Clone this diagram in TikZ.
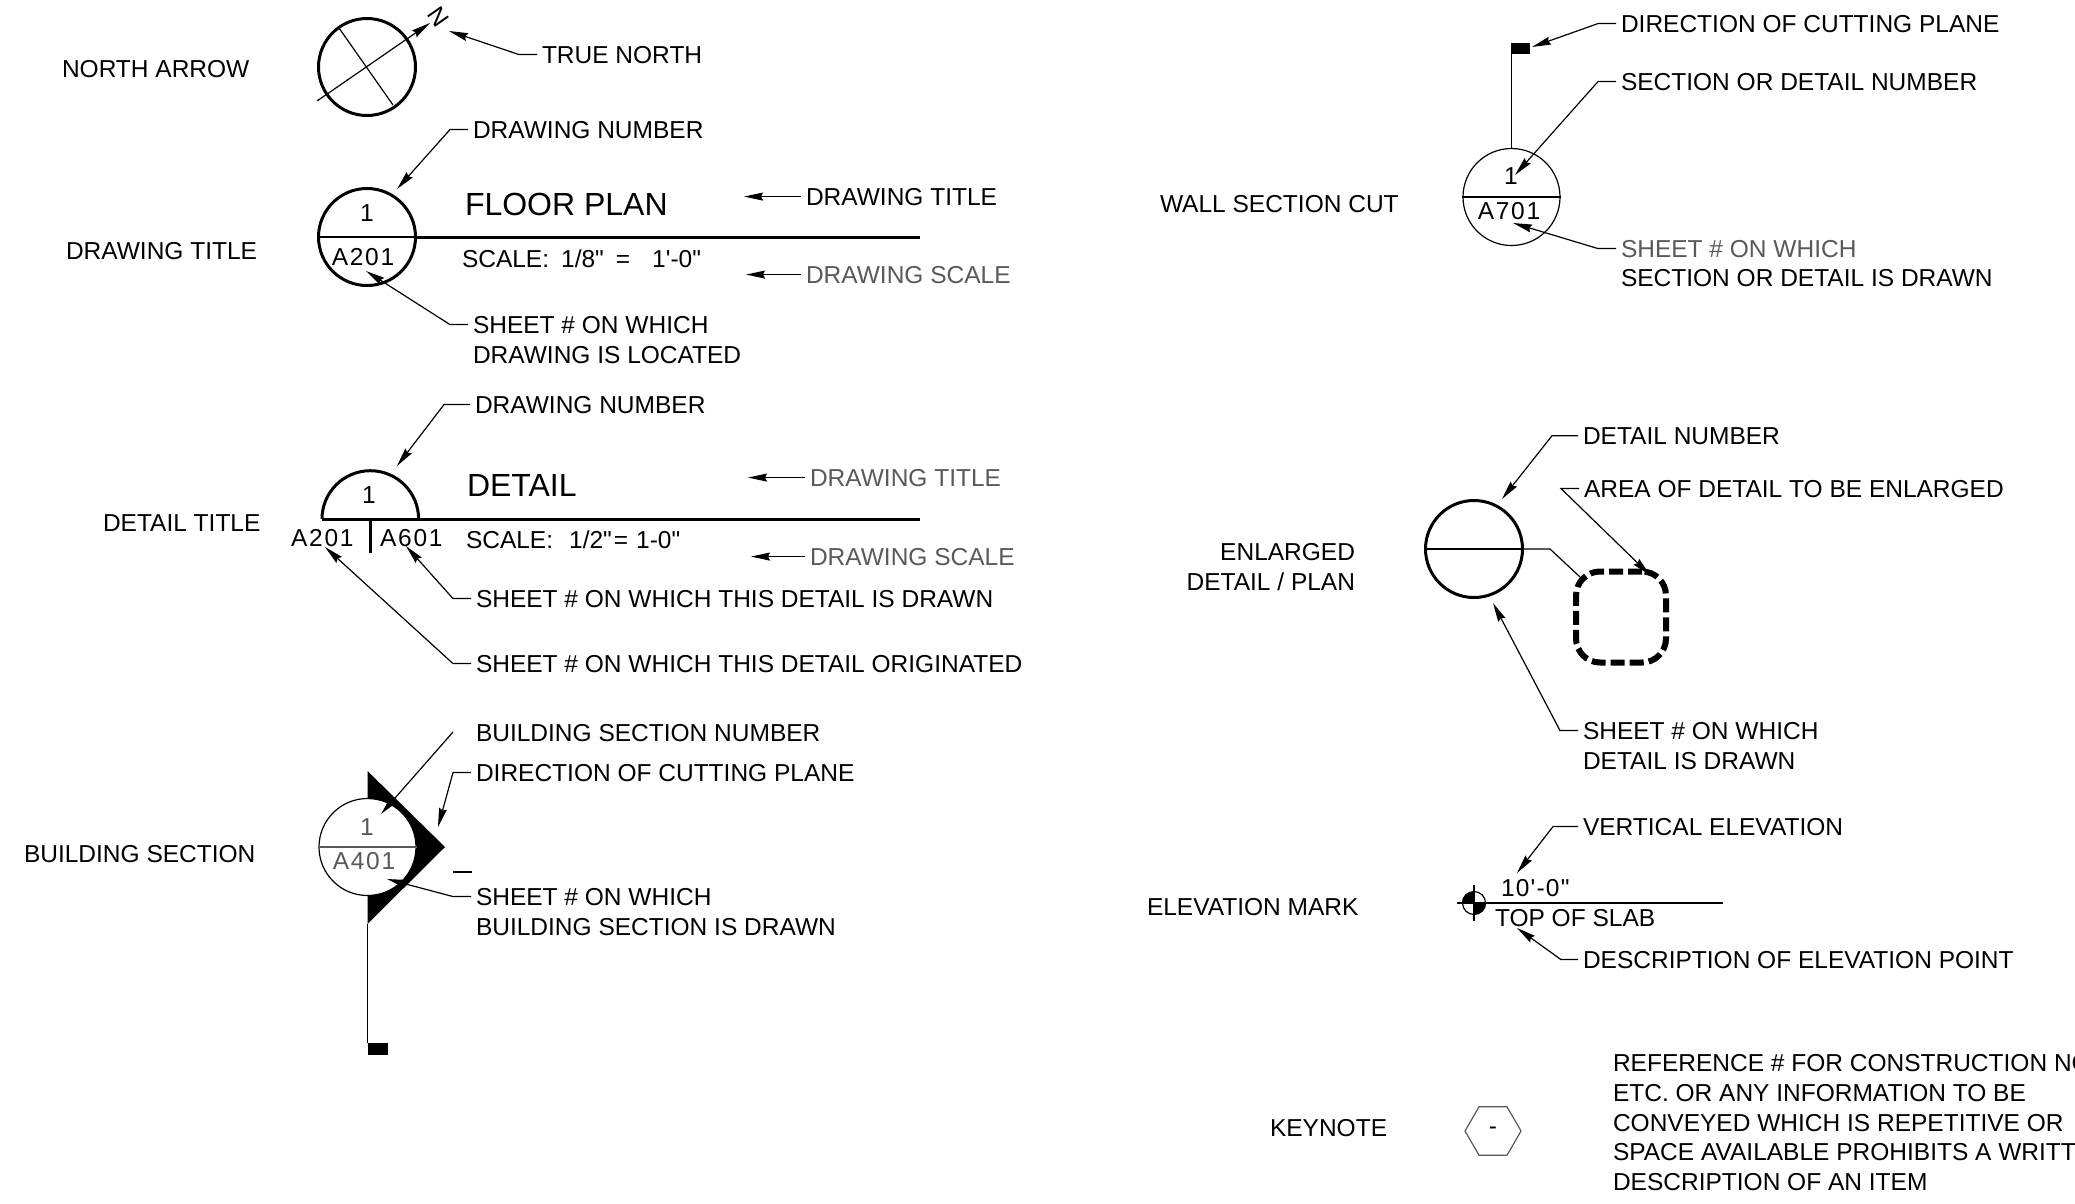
\documentclass[tikz,border=0pt]{standalone}
\usepackage{fontspec}
\setmainfont[Ligatures=TeXOff]{Liberation Sans}
\usepackage{tikz}
\usetikzlibrary{arrows.meta}
\usetikzlibrary{shapes.geometric}
\tikzstyle{lbl}=[anchor=base west,inner sep=0mm,outer sep=5pt,xshift=-5pt,font=\fontsize{24.5}{30}\selectfont]
\tikzstyle{lblr}=[lbl,anchor=base east,xshift=5pt]
\tikzstyle{big}=[lbl,font=\fontsize{32}{36}\selectfont]
\tikzstyle{num}=[anchor=base,inner sep=0mm,font=\fontsize{24.5}{30}\selectfont\addfontfeature{LetterSpace=7}]
\tikzstyle{heavy}=[line width=3pt]
\tikzstyle{fine}=[line width=1.2pt]
\tikzstyle{bubble}=[circle,draw=black,inner sep=0mm,minimum size=97pt]
\tikzstyle{lead}=[fine,-{Stealth[length=19pt,width=8pt,inset=2pt]}]
\tikzset{every picture/.style={x=1pt,y=-1pt}}
\definecolor{soft}{gray}{0.35}

\begin{document}
\begin{tikzpicture}
      \useasboundingbox (0,0) rectangle (2075,1203);
      % row labels
      \node[lbl] at (62,77) (lnorth) {NORTH ARROW};
      \node[lbl] at (66,259) (ltitle) {DRAWING TITLE};
      \node[lbl] at (103,531) (ldetail) {DETAIL TITLE};
      \node[lbl] at (24,862) (lbuild) {BUILDING SECTION};
      \node[lbl] at (1160,212) (lwall) {WALL SECTION CUT};
      \node[lblr] at (1360,560) (lenl) {ENLARGED};
      \node[lblr] at (1360,590) (lenlb) {DETAIL / PLAN};
      \node[lbl] at (1147,915) (lelev) {ELEVATION MARK};
      \node[lbl] at (1270,1136) (lkey) {KEYNOTE};

      % north arrow
      \node[bubble,heavy] at (367,67) (nc) {};
      \coordinate (na) at (317,101);
      \coordinate (nb) at (430,23);
      \coordinate (nd) at (339,28);
      \coordinate (ne) at (393,105);
      \draw[lead] (na) -- (nb);
      \draw[fine] (nd) -- (ne);
      \node[num,anchor=center,rotate=-55] at (438,17) (nn) {N};
      \node[lbl] at (542,63) (tn) {TRUE NORTH};
      \coordinate (tnt) at (449,31);
      \draw[lead] (tn.west) -- ++(-18,0) -- (tnt);

      % drawing title
      \node[bubble,heavy] at (367,237) (dc) {};
      \coordinate (dr) at (920,237);
      \draw[heavy] (dc.east) -- (dr);
      \draw[fine] (dc.west) -- (dc.east);
      \node[num] at (367,221) (dn) {1};
      \node[num] at (363,265) (ds) {A201};
      \node[big] at (465,215) (fp) {FLOOR PLAN};
      \node[lbl] at (462,267) (fs) {SCALE:\hspace{12pt}1/8"\hspace{12pt}=\hspace{22pt}1'-0"};
      \node[lbl] at (473,138) (dnum) {DRAWING NUMBER};
      \coordinate (dnt) at (397,189);
      \draw[lead] (dnum.west) -- ++(-18,0) -- (dnt);
      \node[lbl] at (806,205) (dtt) {DRAWING TITLE};
      \coordinate (dtp) at (744,196);
      \draw[lead] (dtt.west) -- (dtt.west -| dtp);
      \node[lbl,text=soft] at (806,283) (dsc) {DRAWING SCALE};
      \coordinate (dsp) at (746,275);
      \draw[lead] (dsc.west) -- (dsc.west -| dsp);
      \node[lbl] at (473,333) (dsh) {SHEET \# ON WHICH};
      \node[lbl] at (473,363) (dshb) {DRAWING IS LOCATED};
      \coordinate (dst) at (366,271);
      \draw[lead] (dsh.west) -- ++(-18,0) -- (dst);

      % detail title
      \coordinate (tl) at (322,519);
      \coordinate (tr) at (920,519);
      \draw[heavy] (tl) arc[start angle=180,end angle=0,radius=48.3pt];
      \draw[heavy] (tl) -- (tr);
      \coordinate (tm) at (370,519);
      \coordinate (tb) at (370,553);
      \draw[heavy] (tm) -- (tb);
      \node[num] at (369,503) (tn1) {1};
      \node[num,anchor=base west] at (291,546) (ta) {A201};
      \node[num,anchor=base west] at (380,546) (tc) {A601};
      \node[big] at (467,496) (de) {DETAIL};
      \node[lbl] at (466,548) (ts) {SCALE:\hspace{16pt}1/2"\hspace{2pt}=\hspace{8pt}1-0"};
      \node[lbl] at (475,413) (tnum) {DRAWING NUMBER};
      \coordinate (tnt) at (397,466);
      \draw[lead] (tnum.west) -- ++(-26,0) -- (tnt);
      \node[lbl,text=soft] at (810,486) (ttt) {DRAWING TITLE};
      \coordinate (ttp) at (748,477);
      \draw[lead] (ttt.west) -- (ttt.west -| ttp);
      \node[lbl,text=soft] at (810,565) (tsc) {DRAWING SCALE};
      \coordinate (tsp) at (751,557);
      \draw[lead] (tsc.west) -- (tsc.west -| tsp);
      \node[lbl] at (476,607) (tsa) {SHEET \# ON WHICH THIS DETAIL IS DRAWN};
      \coordinate (tat) at (406,546);
      \draw[lead] (tsa.west) -- ++(-18,0) -- (tat);
      \node[lbl] at (476,672) (tsb) {SHEET \# ON WHICH THIS DETAIL ORIGINATED};
      \coordinate (tbt) at (325,547);
      \draw[lead] (tsb.west) -- ++(-18,0) -- (tbt);

      % building section
      \coordinate (bt) at (367.5,771);
      \coordinate (ba) at (445,847);
      \coordinate (bb) at (367.5,924);
      \fill (bt) -- (ba) -- (bb) -- cycle;
      \node[bubble,fine,fill=white] at (367.5,847) (bc) {};
      \draw[fine,draw=soft] (bc.west) -- (bc.east);
      \coordinate (bf) at (367.5,1043);
      \draw[fine] (bb) -- (bf);
      \node[fill,inner sep=0mm,minimum width=20pt,minimum height=12pt,anchor=north west] at (bf) (bq) {};
      \node[num,text=soft] at (367,835) (bn) {1};
      \node[num,text=soft] at (364,869) (bs) {A401};
      \node[lbl] at (476,741) (bnum) {BUILDING SECTION NUMBER};
      \coordinate (bnf) at (453,732);
      \coordinate (bnt) at (381,814);
      \draw[lead] (bnf) -- (bnt);
      \node[lbl] at (476,781) (bdir) {DIRECTION OF CUTTING PLANE};
      \coordinate (bdt) at (438,827);
      \draw[lead] (bdir.west) -- ++(-18,0) -- (bdt);
      \coordinate (bda) at (453,872);
      \coordinate (bdb) at (472,872);
      \draw[fine] (bda) -- (bdb);
      \node[lbl] at (476,905) (bsh) {SHEET \# ON WHICH};
      \node[lbl] at (476,935) (bshb) {BUILDING SECTION IS DRAWN};
      \coordinate (bst) at (387,879);
      \draw[lead] (bsh.west) -- ++(-18,0) -- (bst);

      % wall section cut
      \node[bubble,fine] at (1511.5,197) (wc) {};
      \draw[fine] (wc.west) -- (wc.east);
      \coordinate (wf) at (1511.5,43);
      \draw[fine] (wc.north) -- (wf);
      \node[fill,inner sep=0mm,minimum width=18pt,minimum height=11pt,anchor=north west] at (wf) (wq) {};
      \node[num] at (1511,184) (wn) {1};
      \node[num] at (1509,219) (ws) {A701};
      \node[lbl] at (1621,32) (wdir) {DIRECTION OF CUTTING PLANE};
      \coordinate (wdt) at (1532,47);
      \draw[lead] (wdir.west) -- ++(-18,0) -- (wdt);
      \node[lbl] at (1621,90) (wnum) {SECTION OR DETAIL NUMBER};
      \coordinate (wnt) at (1515,175);
      \draw[lead] (wnum.west) -- ++(-18,0) -- (wnt);
      \node[lbl,text=soft] at (1621,257) (wsh) {SHEET \# ON WHICH};
      \node[lbl] at (1621,286) (wshb) {SECTION OR DETAIL IS DRAWN};
      \coordinate (wst) at (1513,223);
      \draw[lead] (wsh.west) -- ++(-18,0) -- (wst);

      % enlarged detail
      \node[bubble,heavy] at (1474,549) (ec) {};
      \draw[fine] (ec.west) -- (ec.east);
      \node[draw,line width=6pt,dash pattern=on 14pt off 5pt,rounded corners=24pt,inner sep=0mm,minimum width=90pt,minimum height=91pt] at (1621,617) (ea) {};
      \coordinate (eb) at (1550,549);
      \coordinate (ee) at (1580,577);
      \draw[fine] (ec.east) -- (eb) -- (ee);
      \node[lbl] at (1583,444) (enum) {DETAIL NUMBER};
      \coordinate (ent) at (1502,499);
      \draw[lead] (enum.west) -- ++(-26,0) -- (ent);
      \node[lbl] at (1584,497) (ear) {AREA OF DETAIL TO BE ENLARGED};
      \coordinate (eat) at (1650,575);
      \draw[lead] (ear.west) -- ++(-18,0) -- (eat);
      \node[lbl] at (1583,739) (esh) {SHEET \# ON WHICH};
      \node[lbl] at (1583,769) (eshb) {DETAIL IS DRAWN};
      \coordinate (est) at (1493,603);
      \draw[lead] (esh.west) -- ++(-18,0) -- (est);

      % elevation mark
      \node[circle,draw=black,fine,inner sep=0mm,minimum size=23pt] at (1474,903) (vc) {};
      \fill (vc.center) -- (vc.west) arc[start angle=180,end angle=90,radius=11.5pt] -- cycle;
      \fill (vc.center) -- (vc.east) arc[start angle=0,end angle=-90,radius=11.5pt] -- cycle;
      \coordinate (vl) at (1457,903);
      \coordinate (vr) at (1723,903);
      \draw[line width=2pt] (vl) -- (vr);
      \coordinate (vt) at (1474,885);
      \coordinate (vb) at (1474,921);
      \draw[fine] (vt) -- (vb);
      \node[lbl,font=\fontsize{24.5}{30}\selectfont\addfontfeature{LetterSpace=5}] at (1501,896) (vh) {10'-0"};
      \node[lbl] at (1495,926) (vs) {TOP OF SLAB};
      \node[lbl] at (1583,835) (vnum) {VERTICAL ELEVATION};
      \coordinate (vnt) at (1517,873);
      \draw[lead] (vnum.west) -- ++(-25,0) -- (vnt);
      \node[lbl] at (1583,968) (vdesc) {DESCRIPTION OF ELEVATION POINT};
      \coordinate (vdt) at (1517,928);
      \draw[lead] (vdesc.west) -- ++(-17,0) -- (vdt);

      % keynote
      \node[regular polygon,regular polygon sides=6,draw=soft,fine,inner sep=0mm,minimum size=56pt,font=\fontsize{24.5}{30}\selectfont] at (1493,1131) (kh) {-};
      \foreach \i/\y/\t in {1/1071/REFERENCE \# FOR CONSTRUCTION NC,2/1101/ETC. OR ANY INFORMATION TO BE,3/1131/CONVEYED WHICH IS REPETITIVE OR,4/1160/SPACE AVAILABLE PROHIBITS A WRITT,5/1190/DESCRIPTION OF AN ITEM}
        \node[lbl] at (1613,\y) (kt\i) {\t};
    \end{tikzpicture}
\end{document}
